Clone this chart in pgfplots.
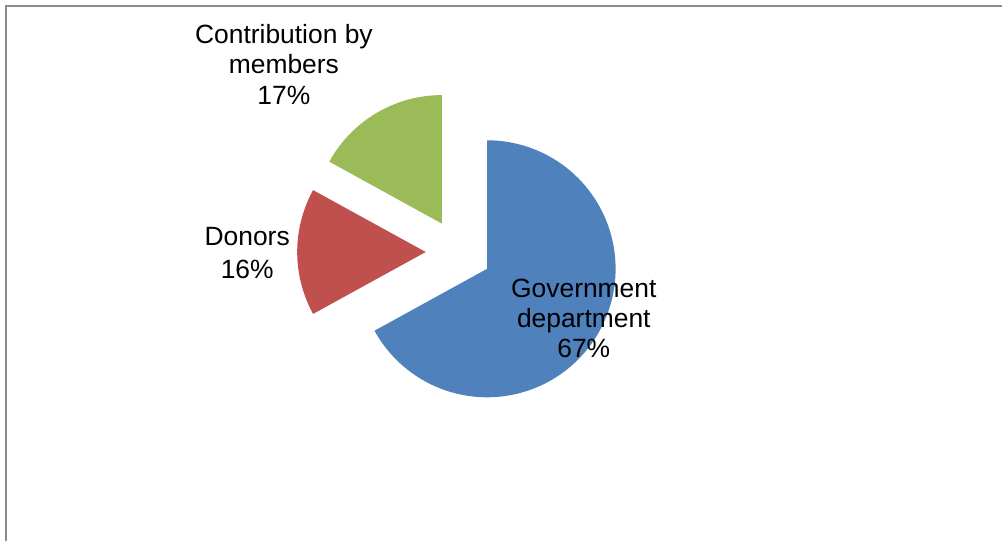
\documentclass[border=0pt]{standalone}
\usepackage{pgfplots}
\usepackage{pgfplotstable}
\pgfplotsset{compat=1.18}
\usepackage{fontspec}
\setmainfont{Liberation Sans}
\definecolor{pieblue}{HTML}{4F81BD}
\definecolor{piered}{HTML}{C0504D}
\definecolor{piegreen}{HTML}{9BBB59}
\definecolor{framegray}{HTML}{8C8C8C}

\pgfplotstableread{
label value
Government 67
Donors 16
Members 17
}\piedata

\begin{document}
\begin{tikzpicture}
\pgfplotstablegetelem{0}{value}\of\piedata \let\vA\pgfplotsretval
\pgfplotstablegetelem{1}{value}\of\piedata \let\vB\pgfplotsretval
\pgfplotstablegetelem{2}{value}\of\piedata \let\vC\pgfplotsretval
\pgfmathsetmacro{\tot}{\vA+\vB+\vC}
% pie geometry (pixel units of the reference)
\pgfmathsetmacro{\Cx}{458.7}
\pgfmathsetmacro{\Cy}{288}
\pgfmathsetmacro{\R}{128.5}
\pgfmathsetmacro{\D}{33}
% angles: first slice starts at 12 o'clock, clockwise
\pgfmathsetmacro{\aZero}{90}
\pgfmathsetmacro{\aOne}{90-360*(\vA/\tot)}
\pgfmathsetmacro{\aTwo}{\aOne-360*(\vB/\tot)}
\pgfmathsetmacro{\aThree}{\aTwo-360*(\vC/\tot)}
\pgfmathsetmacro{\mA}{(\aZero+\aOne)/2}
\pgfmathsetmacro{\mB}{(\aOne+\aTwo)/2}
\pgfmathsetmacro{\mC}{(\aTwo+\aThree)/2}
\pgfmathsetmacro{\cxA}{\Cx+\D*cos(\mA)}\pgfmathsetmacro{\cyA}{\Cy+\D*sin(\mA)}
\pgfmathsetmacro{\cxB}{\Cx+\D*cos(\mB)}\pgfmathsetmacro{\cyB}{\Cy+\D*sin(\mB)}
\pgfmathsetmacro{\cxC}{\Cx+\D*cos(\mC)}\pgfmathsetmacro{\cyC}{\Cy+\D*sin(\mC)}
\begin{axis}[
  width=751.5pt, height=405pt, scale only axis,
  xmin=0, xmax=1002, ymin=0, ymax=540,
  hide axis,
]
\addplot[draw=none, mark=none] coordinates {(0,0) (1002,540)};
\addplot[draw=framegray, line width=1.5pt, mark=none] coordinates {(5.5,-20) (5.5,534.3) (1020,534.3)};
% slices
\addplot[draw=none, fill=pieblue, mark=none, domain=\aOne:\aZero, samples=150, variable=\t]
  ({\cxA+\R*cos(\t)}, {\cyA+\R*sin(\t)}) -- (axis cs:\cxA,\cyA) -- cycle;
\addplot[draw=none, fill=piered, mark=none, domain=\aTwo:\aOne, samples=60, variable=\t]
  ({\cxB+\R*cos(\t)}, {\cyB+\R*sin(\t)}) -- (axis cs:\cxB,\cyB) -- cycle;
\addplot[draw=none, fill=piegreen, mark=none, domain=\aThree:\aTwo, samples=60, variable=\t]
  ({\cxC+\R*cos(\t)}, {\cyC+\R*sin(\t)}) -- (axis cs:\cxC,\cyC) -- cycle;
% labels
\begin{scope}[every node/.style={anchor=base, inner sep=0pt, font=\fontsize{19.8pt}{23.25pt}\selectfont}]
\node at (axis cs:283.9,496.7) {Contribution by};
\node at (axis cs:283.9,466.2) {members};
\node at (axis cs:283.9,435.7) {17\%};
\node at (axis cs:247.2,294.3) {Donors};
\node at (axis cs:247.2,261.7) {16\%};
\node at (axis cs:583.8,242.7) {Government};
\node at (axis cs:583.8,212.7) {department};
\node at (axis cs:583.8,182.7) {67\%};
\end{scope}
\end{axis}
\end{tikzpicture}
\end{document}
